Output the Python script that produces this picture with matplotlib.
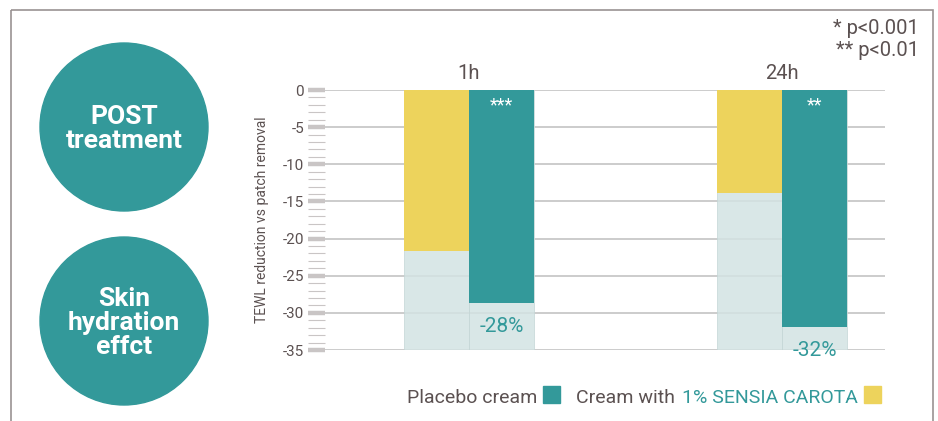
import matplotlib
matplotlib.use("Agg")
import matplotlib.pyplot as plt
import numpy as np
from matplotlib.patches import Circle, Rectangle
from matplotlib.ticker import MultipleLocator

plt.rcParams['font.family'] = ['Roboto', 'DejaVu Sans']
plt.rcParams['axes.unicode_minus'] = False

# data
times = ['1h', '24h']
placebo = [-28.7, -31.9]      # teal bars
sensia = [-21.7, -13.9]       # yellow bars
pct_labels = ['-28%', '-32%']
stars = ['***', '**']
y_floor = -35

TEAL = '#33999a'
YELLOW = '#edd35c'
LIGHT = '#d3e3e3'
GREY = '#5b5151'

W, H = 938, 421
fig = plt.figure(figsize=(W / 100, H / 100), dpi=100)

# background layer in pixel coords (frame + circles)
bg = fig.add_axes([0, 0, 1, 1])
bg.set_xlim(0, W)
bg.set_ylim(H, 0)
bg.axis('off')
bg.add_patch(Rectangle((11, 10), 922, 420, fill=False, ec='#9a9292', lw=1.2))
bg.add_patch(Circle((124, 127), 84, color=TEAL))
bg.add_patch(Circle((124, 321), 84, color=TEAL))
bg.text(124, 129, 'POST\ntreatment', color='white', fontsize=19, fontweight='bold',
        ha='center', va='center', linespacing=1.0)
bg.text(124, 323, 'Skin\nhydration\neffct', color='white', fontsize=19, fontweight='bold',
        ha='center', va='center', linespacing=1.0)
bg.text(919, 29, '* p<0.001', color=GREY, fontsize=14.5, ha='right', va='center')
bg.text(919, 50, '** p<0.01', color=GREY, fontsize=14.5, ha='right', va='center')
bg.text(262, 220, 'TEWL reduction vs patch removal', color=GREY, fontsize=10,
        rotation=90, ha='center', va='center')

# main chart
ax = fig.add_axes([325 / W, 1 - 350 / H, 560 / W, 260 / H])
x = np.arange(len(times))
w = 0.208

ax.bar(x - w / 2, [y_floor] * len(x), w, color=LIGHT, alpha=0.85, zorder=2,
       ec='#c4d6d6', lw=0.6)
ax.bar(x + w / 2, [y_floor] * len(x), w, color=LIGHT, alpha=0.85, zorder=2,
       ec='#c4d6d6', lw=0.6)
ax.bar(x - w / 2, sensia, w, color=YELLOW, zorder=3)
ax.bar(x + w / 2, placebo, w, color=TEAL, zorder=3)

for i in range(len(x)):
    ax.text(x[i] + w / 2, -2.0, stars[i], color='white', fontsize=13,
            ha='center', va='center', zorder=4)
    ax.text(x[i] + w / 2, placebo[i] - 3.1, pct_labels[i], color=TEAL, fontsize=15,
            ha='center', va='center', zorder=4)

ax.set_xlim(-0.46, 1.329)
ax.set_ylim(y_floor, 0)
ax.yaxis.set_major_locator(MultipleLocator(5))
ax.yaxis.set_minor_locator(MultipleLocator(1))
ax.set_yticks(np.arange(0, y_floor - 1, -5))
ax.set_yticklabels([str(v) for v in np.arange(0, y_floor - 1, -5)])
ax.grid(axis='y', color='#cccccc', lw=1.4, zorder=1)
ax.set_axisbelow(True)
ax.tick_params(axis='y', which='major', length=12, width=3.2, color='#c9c5c5',
               labelsize=11, labelcolor=GREY, pad=3)
ax.tick_params(axis='y', which='minor', length=12, width=0.8, color='#c9c5c5')
ax.xaxis.tick_top()
ax.set_xticks(x)
ax.set_xticklabels(times, fontsize=14.5, color=GREY)
ax.tick_params(axis='x', length=0, pad=5)
for s in ax.spines.values():
    s.set_visible(False)

# legend built from text pieces
fig.canvas.draw()
renderer = fig.canvas.get_renderer()
parts = [('Placebo cream', GREY, TEAL), ('Cream with ', GREY, None),
         ('1% SENSIA CAROTA', TEAL, YELLOW)]
px = 407
base = 403
for label, tcolor, box in parts:
    t = fig.text(px / W, 1 - base / H, label, color=tcolor, fontsize=14, va='baseline')
    bb = t.get_window_extent(renderer)
    px = bb.x1
    if box is not None:
        bg.add_patch(Rectangle((px + 6, base - 17), 17, 17, color=box))
        px += 6 + 17 + 16
    else:
        px += 2

fig.savefig('out.png', dpi=100)
